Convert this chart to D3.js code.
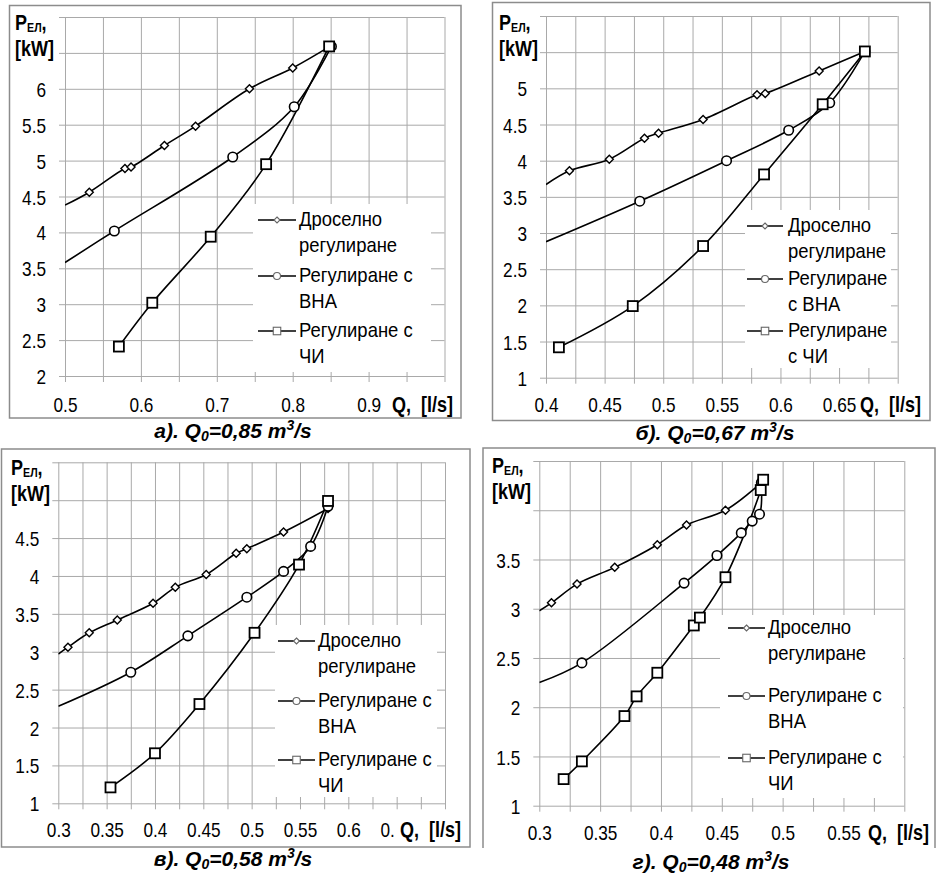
<!DOCTYPE html>
<html>
<head>
<meta charset="utf-8">
<script src="https://cdn.jsdelivr.net/npm/d3@7/dist/d3.min.js"></script>
<style>
  body { margin: 0; background: #fff; }
  svg { display: block; }
  text { font-family: "Liberation Sans", Arial, sans-serif; }
</style>
</head>
<body>
<svg id="chart" width="939" height="875"></svg>
<script>
// ---------- data: Q [l/s] vs P_ЕЛ [kW] ----------
// each series: [Q, P] pairs (marked points); *Lead = where the smoothed curve enters at the left axis (no marker)

// а) Q0 = 0,85
const throttleA = [[0.532,4.56],[0.579,4.89],[0.587,4.91],[0.631,5.21],[0.672,5.48],[0.743,6.00],[0.800,6.29],[0.849,6.59]];
const vnaA      = [[0.565,4.02],[0.721,5.05],[0.802,5.75],[0.851,6.59]];
const fcA       = [[0.571,2.41],[0.615,3.02],[0.692,3.94],[0.765,4.95],[0.848,6.59]];
const leadA     = [[0.5,4.38],[0.5,3.58],null];

// б) Q0 = 0,67
const throttleB = [[0.420,3.86],[0.454,4.02],[0.484,4.31],[0.496,4.38],[0.534,4.57],[0.580,4.91],[0.587,4.93],[0.633,5.24],[0.672,5.51]];
const vnaB      = [[0.480,3.44],[0.554,4.00],[0.607,4.42],[0.642,4.80],[0.672,5.51]];
const fcB       = [[0.411,1.42],[0.474,1.99],[0.534,2.82],[0.586,3.81],[0.636,4.78],[0.672,5.51]];
const leadB     = [[0.4,3.67],[0.4,2.88],null];

// в) Q0 = 0,58
const throttleC = [[0.310,3.06],[0.332,3.25],[0.361,3.42],[0.398,3.64],[0.421,3.85],[0.453,4.02],[0.484,4.30],[0.495,4.36],[0.533,4.58],[0.579,4.89]];
const vnaC      = [[0.375,2.73],[0.434,3.21],[0.495,3.72],[0.533,4.06],[0.561,4.39],[0.579,4.92]];
const fcC       = [[0.354,1.21],[0.400,1.66],[0.446,2.31],[0.503,3.25],[0.549,4.15],[0.579,4.99]];
const leadC     = [[0.3,2.97],[0.3,2.28],null];

// г) Q0 = 0,48
const throttleD = [[0.310,3.06],[0.331,3.25],[0.362,3.42],[0.397,3.65],[0.421,3.85],[0.453,4.00],[0.4825,4.28]];
const vnaD      = [[0.335,2.45],[0.419,3.26],[0.446,3.54],[0.466,3.77],[0.475,3.89],[0.481,3.96],[0.4825,4.28]];
const fcD       = [[0.320,1.27],[0.335,1.45],[0.370,1.91],[0.380,2.11],[0.397,2.35],[0.427,2.83],[0.432,2.91],[0.453,3.32],[0.482,4.205],[0.484,4.31]];
const leadD     = [[0.3,2.98],[0.3,2.25],null];

// axis labels
const xTicksA = [0.5,0.6,0.7,0.8,0.9];
const yTicksA = [2,2.5,3,3.5,4,4.5,5,5.5,6];
const xTicksB = [0.4,0.45,0.5,0.55,0.6,0.65];
const yTicksB = [1,1.5,2,2.5,3,3.5,4,4.5,5];
const xTicksC = [0.3,0.35,0.4,0.45,0.5,0.55,0.6,0.65];
const yTicksC = [1,1.5,2,2.5,3,3.5,4,4.5];
const xTicksD = [0.3,0.35,0.4,0.45,0.5,0.55];
const yTicksD = [1,1.5,2,2.5,3,3.5];
// the last Q label in panel в is cut short by the axis title box
const xTickTextC = {0.65: "0."};

// legend texts (two lines each)
const legendWide   = [["Дроселно","регулиране"],["Регулиране с","ВНА"],["Регулиране с","ЧИ"]];
const legendNarrow = [["Дроселно","регулиране"],["Регулиране","с ВНА"],["Регулиране","с ЧИ"]];

// panel captions: letter, Q0 value
const captions = [["а).","0,85"],["б).","0,67"],["в).","0,58"],["г).","0,48"]];

// ---------- layout ----------
const panels = [
  { frame:[9.5,5.5,461,418], open:false, plot:{l:65,r:444.5,t:17,b:376},
    xDom:[0.5,1.0], yDom:[2,7], xStep:0.05, yStep:0.5, xTicks:xTicksA, yTicks:yTicksA, xText:{},
    series:[throttleA,vnaA,fcA], lead:leadA, legendText:legendWide,
    legend:{box:[253,204,431,372], x1:258, x2:296, tx:299, rows:[226,282,337], gap:26},
    q:{x:392,y:412}, p:{x:15,y:30}, cap:{x:233,y:438}, capIdx:0 },
  { frame:[492.5,2.5,930,420.5], open:false, plot:{l:546,r:897.7,t:16,b:377.7},
    xDom:[0.4,0.7], yDom:[1,6], xStep:0.025, yStep:0.5, xTicks:xTicksB, yTicks:yTicksB, xText:{},
    series:[throttleB,vnaB,fcB], lead:leadB, legendText:legendNarrow,
    legend:{box:[745,210,891,368], x1:747, x2:783, tx:788, rows:[232,285,337], gap:26},
    q:{x:860,y:412}, p:{x:499,y:30}, cap:{x:715,y:440}, capIdx:1 },
  { frame:[1.5,449,470,847], open:false, plot:{l:58.3,r:445,t:462.3,b:803.3},
    xDom:[0.3,0.7], yDom:[1,5.5], xStep:0.025, yStep:0.5, xTicks:xTicksC, yTicks:yTicksC, xText:xTickTextC,
    series:[throttleC,vnaC,fcC], lead:leadC, legendText:legendWide,
    legend:{box:[275,625,437,797], x1:278, x2:315, tx:318, rows:[647,707,766], gap:26},
    q:{x:400,y:837}, p:{x:11,y:475}, cap:{x:233,y:866}, capIdx:2 },
  { frame:[483,448,935,848], open:true, plot:{l:539.3,r:904.3,t:461,b:805.7},
    xDom:[0.3,0.6], yDom:[1,4.5], xStep:0.025, yStep:0.5, xTicks:xTicksD, yTicks:yTicksD, xText:{},
    series:[throttleD,vnaD,fcD], lead:leadD, legendText:legendWide,
    legend:{box:[720,615,903,798], x1:728, x2:765, tx:768, rows:[634,702,764], gap:26},
    q:{x:868,y:840}, p:{x:492,y:473}, cap:{x:711,y:869}, capIdx:3 }
];

const svg = d3.select("#chart");
const GRID = "#a9a9a9";
const SQUEEZE = 0.82;          // condensed type for axis numbers and titles
const LEG_SQUEEZE = 0.9;       // legend type is only slightly condensed
const fmt = d3.format("~g");
const markerKinds = ["diamond","circle","square"];

// condensed text placed at (x, y)
function narrow(parent, x, y, k = SQUEEZE) {
  return parent.append("text").attr("transform",`translate(${x},${y}) scale(${k},1)`);
}

function drawMarker(sel, kind, s, stroke, sw) {
  if (kind === "circle") {
    sel.append("circle").attr("r", s/2).attr("fill","#fff").attr("stroke",stroke).attr("stroke-width",sw);
  } else if (kind === "square") {
    sel.append("rect").attr("x",-s/2).attr("y",-s/2).attr("width",s).attr("height",s)
      .attr("fill","#fff").attr("stroke",stroke).attr("stroke-width",sw);
  } else {
    const h = s/2;
    sel.append("path").attr("d",`M0,${-h}L${h},0L0,${h}L${-h},0Z`)
      .attr("fill","#fff").attr("stroke",stroke).attr("stroke-width",sw);
  }
}

panels.forEach((P, pi) => {
  const [fx1,fy1,fx2,fy2] = P.frame;
  // outer frame
  if (P.open) {
    svg.append("path").attr("d",`M${fx1},${fy2}V${fy1}H${fx2}V${fy2}`)
      .attr("fill","none").attr("stroke","#8c8c8c").attr("stroke-width",1.5);
  } else {
    svg.append("rect").attr("x",fx1).attr("y",fy1).attr("width",fx2-fx1).attr("height",fy2-fy1)
      .attr("fill","none").attr("stroke","#8c8c8c").attr("stroke-width",1.5);
  }

  const pw = P.plot.r - P.plot.l, ph = P.plot.b - P.plot.t;
  const g = svg.append("g").attr("transform",`translate(${P.plot.l},${P.plot.t})`);
  const x = d3.scaleLinear().domain(P.xDom).range([0,pw]);
  const y = d3.scaleLinear().domain(P.yDom).range([ph,0]);

  const nx = Math.round((P.xDom[1]-P.xDom[0])/P.xStep);
  const ny = Math.round((P.yDom[1]-P.yDom[0])/P.yStep);
  const xGrid = d3.range(nx+1).map(i => +(P.xDom[0]+i*P.xStep).toFixed(4));
  const yGrid = d3.range(ny+1).map(i => +(P.yDom[0]+i*P.yStep).toFixed(4));

  // grid lines (extend a little past the left and bottom edges as tick marks)
  const gx = g.append("g").attr("transform",`translate(0,${ph+6})`)
    .call(d3.axisBottom(x).tickValues(xGrid).tickSize(-(ph+6)).tickFormat(""));
  gx.select(".domain").remove();
  gx.selectAll("line").attr("stroke",GRID).attr("stroke-width",1);
  const gy = g.append("g").attr("transform",`translate(-6,0)`)
    .call(d3.axisLeft(y).tickValues(yGrid).tickSize(-(pw+6)).tickFormat(""));
  gy.select(".domain").remove();
  gy.selectAll("line").attr("stroke",GRID).attr("stroke-width",1);

  // tick labels
  const lx = g.append("g").attr("transform",`translate(0,${ph})`)
    .call(d3.axisBottom(x).tickValues(P.xTicks).tickSize(0).tickFormat(fmt));
  lx.select(".domain").remove();
  lx.selectAll("text").attr("dy",null).attr("x",0).attr("y",P.q.y - P.plot.b)
    .attr("transform",`scale(${SQUEEZE},1)`);
  const ly = g.append("g")
    .call(d3.axisLeft(y).tickValues(P.yTicks).tickSize(0).tickFormat(fmt));
  ly.select(".domain").remove();
  ly.selectAll("text").attr("dy","0.36em").attr("x",-19/SQUEEZE)
    .attr("transform",`scale(${SQUEEZE},1)`);
  [lx, ly].forEach(a => a.attr("font-family",null).attr("font-size",21)
    .selectAll("text").attr("fill","#000"));
  // a label partly hidden by the axis title keeps its full label's left edge
  lx.selectAll(".tick text").each(function(d) {
    if (P.xText[d] === undefined) return;
    const full = this.getComputedTextLength();
    d3.select(this).attr("text-anchor","start").attr("x",-full/2).text(P.xText[d]);
  });

  // legend background (hides grid behind it)
  const L = P.legend;
  svg.append("rect").attr("x",L.box[0]).attr("y",L.box[1])
    .attr("width",L.box[2]-L.box[0]).attr("height",L.box[3]-L.box[1]).attr("fill","#fff");

  // curves
  const clipId = "clip"+pi;
  svg.append("clipPath").attr("id",clipId).append("rect")
    .attr("x",0).attr("y",-10).attr("width",pw+10).attr("height",ph+20);
  const line = d3.line().x(d => x(d[0])).y(d => y(d[1])).curve(d3.curveCatmullRom.alpha(0.5));
  const cg = svg.append("g").attr("transform",`translate(${P.plot.l},${P.plot.t})`)
    .append("g").attr("clip-path",`url(#${clipId})`);
  const mg = svg.append("g").attr("transform",`translate(${P.plot.l},${P.plot.t})`);
  P.series.forEach((s, si) => {
    const pts = P.lead[si] ? [P.lead[si]].concat(s) : s;
    cg.append("path").datum(pts).attr("d",line)
      .attr("fill","none").attr("stroke","#000").attr("stroke-width",1.6);
  });
  // markers drawn after all lines
  const msize = [8, 9.5, 10], mstroke = [1.4, 1.6, 1.8];
  P.series.forEach((s, si) => {
    mg.selectAll(null).data(s).enter().append("g")
      .attr("transform", d => `translate(${x(d[0])},${y(d[1])})`)
      .each(function() { drawMarker(d3.select(this), markerKinds[si], msize[si], "#000", mstroke[si]); });
  });

  // legend
  const lsize = [6, 7, 7.5];
  P.legendText.forEach((lines, i) => {
    const by = L.rows[i], my = by - 6;
    svg.append("line").attr("x1",L.x1).attr("x2",L.x2).attr("y1",my).attr("y2",my)
      .attr("stroke","#000").attr("stroke-width",1.6);
    const mk = svg.append("g").attr("transform",`translate(${(L.x1+L.x2)/2},${my})`);
    drawMarker(mk, markerKinds[i], lsize[i], "#666", 1.1);
    lines.forEach((t, k) => {
      narrow(svg, L.tx, by + k*L.gap, LEG_SQUEEZE).attr("font-size",20.5).text(t);
    });
  });

  // axis titles
  const qt = narrow(svg, P.q.x, P.q.y)
    .attr("font-size",22).attr("font-weight","bold").attr("xml:space","preserve")
    .text("Q,  [l/s]");
  const bb = qt.node().getBBox();
  svg.insert("rect", () => qt.node()).attr("x",P.q.x - 3).attr("y",P.q.y + bb.y)
    .attr("width",bb.width*SQUEEZE + 5).attr("height",bb.height).attr("fill","#fff");

  const pt = narrow(svg, P.p.x, P.p.y).attr("font-weight","bold");
  pt.append("tspan").attr("font-size",22).text("P");
  pt.append("tspan").attr("font-size",13).attr("dy",2).text("ЕЛ");
  pt.append("tspan").attr("font-size",22).attr("dy",-2).text(",");
  narrow(svg, P.p.x, P.p.y + 26).attr("font-weight","bold").attr("font-size",22).text("[kW]");

  // caption
  const c = captions[P.capIdx];
  const ct = svg.append("text").attr("x",P.cap.x).attr("y",P.cap.y)
    .attr("text-anchor","middle").attr("font-size",21).attr("font-weight","bold")
    .attr("font-style","italic").attr("xml:space","preserve");
  ct.append("tspan").text(c[0] + " Q");
  ct.append("tspan").attr("font-size",14).attr("dy",3).text("0");
  ct.append("tspan").attr("dy",-3).text("=" + c[1] + " m");
  ct.append("tspan").attr("font-size",14).attr("dy",-8).text("3");
  ct.append("tspan").attr("dy",8).text("/s");
});
</script>
</body>
</html>
